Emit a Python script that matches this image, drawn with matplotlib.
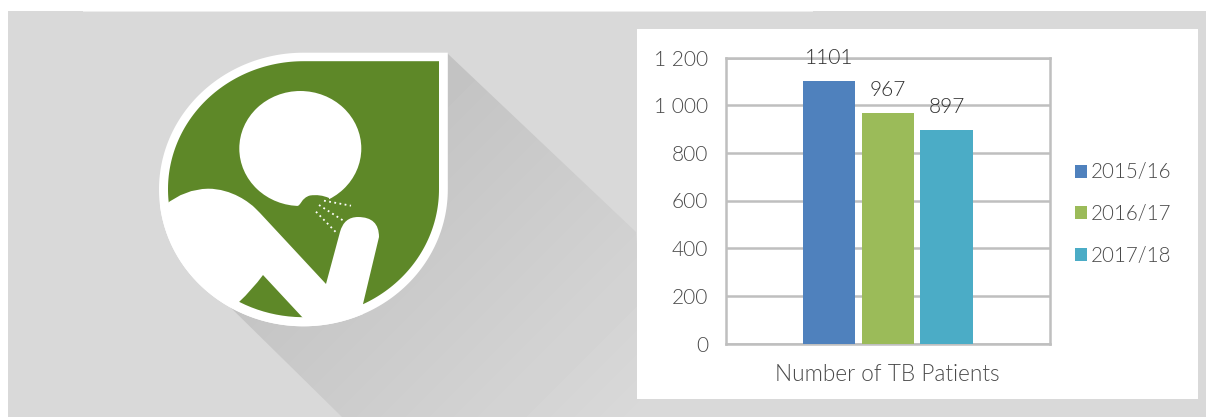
import numpy as np
import matplotlib
matplotlib.use('Agg')
import matplotlib.pyplot as plt
from matplotlib.patches import PathPatch, Rectangle, Ellipse
from matplotlib.path import Path

plt.rcParams['font.family'] = ['Lato', 'DejaVu Sans']
plt.rcParams['font.weight'] = 300

# chart data
years = ['2015/16', '2016/17', '2017/18']
patients = [1101, 967, 897]
bar_colors = ['#4F81BD', '#9BBB59', '#4BACC6']
category = 'Number of TB Patients'
yticks = [0, 200, 400, 600, 800, 1000, 1200]
ytick_labels = ['0', '200', '400', '600', '800', '1 000', '1 200']

W, H = 1206, 417
TEXT = '#4A4A4A'
GRID = '#BFBFBF'
GREEN = '#5E8828'
BG = '#D9D9D9'


def drop(cx, cy, rx, ry):
    # teardrop: ellipse with a square top right corner
    t = np.linspace(np.pi / 2, 2 * np.pi, 200)
    x = cx + rx * np.cos(t)
    y = cy - ry * np.sin(t)
    pts = list(zip(x, y)) + [(cx + rx, cy - ry), (cx, cy - ry)]
    return Path(pts, closed=False)


fig = plt.figure(figsize=(W / 100, H / 100), dpi=100, facecolor='white')

# background layer in pixel coordinates
bg = fig.add_axes([0, 0, 1, 1])
bg.set_xlim(0, W)
bg.set_ylim(H, 0)
bg.axis('off')
bg.add_patch(Rectangle((8, 11), W - 8, H - 11, fc=BG, ec='none'))
bg.add_patch(Rectangle((83, 11), 730, 1.2, fc='#EDEDED', ec='none'))

# long shadow, fading towards the lower right
yy, xx = np.mgrid[0:H, 0:W]
fade = np.clip((xx + yy - 500) / 560, 0, 1)
shade = 0xC2 + (0xD9 - 0xC2) * fade
shadow = bg.imshow(shade, cmap='gray', vmin=0, vmax=255, extent=(0, W, H, 0),
                   aspect='auto', zorder=1)
poly = PathPatch(Path([(447, 53), (636, 232), (650, 417), (342, 417), (226, 303)]),
                 fc='none', ec='none', transform=bg.transData)
bg.add_patch(poly)
shadow.set_clip_path(poly)
bg.set_xlim(0, W)
bg.set_ylim(H, 0)

# badge
outer = drop(303.4, 189.5, 144.4, 136.8)
inner = drop(303.5, 189.2, 135.5, 128)
bg.add_patch(PathPatch(outer, fc='white', ec='none', zorder=2))
inner_patch = PathPatch(inner, fc=GREEN, ec='none', zorder=3)
bg.add_patch(inner_patch)
outer_clip = PathPatch(outer, fc='none', ec='none')
bg.add_patch(outer_clip)

# head and nose
bg.add_patch(Ellipse((300.3, 148.5), 122, 115, fc='white', ec='none', zorder=4))
C3, C4, L = Path.CURVE3, Path.CURVE4, Path.LINETO
nose = Path([(297, 206), (301, 206), (301, 198), (310, 195.5), (320, 194), (329, 198),
             (329, 212), (297, 212), (297, 206)],
            [Path.MOVETO, C4, C4, C4, C3, C3, L, L, L])
bg.add_patch(PathPatch(nose, fc=GREEN, ec='none', zorder=5))

# body and raised arm
body_v = [(165, 205), (185, 189), (208, 188.7), (232, 188.7), (250, 203), (255, 208), (260, 213),
          (326, 284), (340, 232), (344, 217), (358, 217), (379, 217), (379, 237),
          (363, 304), (363, 335), (150, 335), (150, 205)]
body_c = [Path.MOVETO, C3, C3, C4, C4, C4, L, L, L, C3, C3, C3, C3, L, L, L, L]
body = PathPatch(Path(body_v, body_c), fc='white', ec='none', zorder=6)
bg.add_patch(body)
body.set_clip_path(outer_clip)

# green sliver under the arm
sliver_v = [(263, 275), (303, 318), (303, 335), (230, 335), (239, 302), (252, 290), (263, 275)]
sliver_c = [Path.MOVETO, L, L, L, L, C3, C3]
sliver = PathPatch(Path(sliver_v, sliver_c), fc=GREEN, ec='none', zorder=7)
bg.add_patch(sliver)
sliver.set_clip_path(inner_patch)

# cough droplets
for x0, y0, x1, y1 in [(324, 200.7, 351, 205.7), (319, 205, 345, 221.7), (316, 211.7, 336.7, 233)]:
    bg.plot([x0, x1], [y0, y1], color='white', lw=1.3, zorder=8,
            linestyle=(0, (1, 1.9)), dash_capstyle='butt')

# white chart panel
bg.add_patch(Rectangle((636.5, 29), 561.5, 370, fc='white', ec='none', zorder=9))

# the bar chart itself
ax = fig.add_axes([726 / W, 1 - 343.5 / H, 323.5 / W, 286 / H], zorder=2)
ax.patch.set_alpha(0)
pos = np.array([-1, 0, 1])
bars = ax.bar(pos, patients, width=0.89, color=bar_colors, zorder=3, label='_')
ax.set_xlim(-2.746, 2.746)
ax.set_ylim(0, 1200)
ax.set_yticks(yticks)
ax.set_yticklabels(ytick_labels)
ax.set_xticks([0])
ax.set_xticklabels([category], fontsize=16.3)
ax.tick_params(axis='y', length=0, labelsize=15, labelcolor=TEXT, pad=13)
ax.tick_params(axis='x', length=0, labelcolor=TEXT, pad=15)
ax.grid(axis='y', color=GRID, lw=1.8, zorder=1)
for s in ax.spines.values():
    s.set_color(GRID)
    s.set_linewidth(1.8)
    s.set_zorder(1)

for b, v in zip(bars, patients):
    ax.annotate(str(v), (b.get_x() + b.get_width() / 2, v), xytext=(0, 12),
                textcoords='offset points', ha='center', va='baseline',
                fontsize=15, color='#333333', zorder=6)

ax.legend(bars, years, loc='center left', bbox_to_anchor=(1056 / W, 1 - 214 / H),
          bbox_transform=fig.transFigure, frameon=False, fontsize=14.8, labelcolor=TEXT,
          handlelength=0.6, handleheight=0.6, handletextpad=0.2, labelspacing=1.05)

fig.savefig('out.png', dpi=100)
